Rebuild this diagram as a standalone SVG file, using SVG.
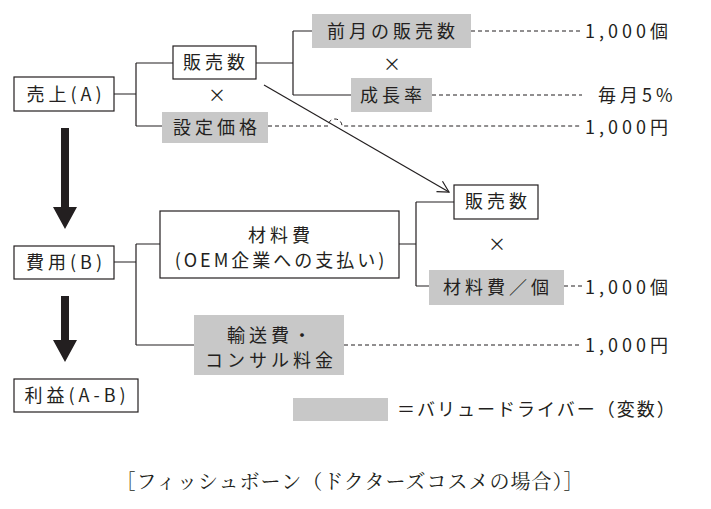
<svg xmlns="http://www.w3.org/2000/svg" width="711" height="509" viewBox="0 0 711 509">
<style>
text{font-family:"Noto Sans CJK JP",sans-serif;font-size:18px;fill:#231f20;letter-spacing:4px}
.m{text-anchor:middle}
.b{fill:#fff;stroke:#231f20;stroke-width:1.2}
.g{fill:#c8c8c8}
.l{fill:none;stroke:#231f20;stroke-width:1.2}
.d{fill:none;stroke:#231f20;stroke-width:1;stroke-dasharray:4 3}
.cap{font-family:"Noto Serif CJK JP","Noto Sans CJK JP",serif;font-size:20px;letter-spacing:1px}
</style>
<defs><marker id="ah" markerWidth="14" markerHeight="14" refX="12" refY="7" orient="auto" markerUnits="userSpaceOnUse"><path d="M1,1 L12,7 L1,13" fill="none" stroke="#231f20" stroke-width="1.2"/></marker></defs>
<g id="connectors">
<path class="l" d="M114,94H136M136,63V126M136,63H173M136,126H162"/>
<path class="l" d="M256,63H293M293,31V95M293,31H312M293,95H351"/>
<path class="l" d="M114,262H136M136,244V345M136,244H160M136,345H194"/>
<path class="l" d="M399,244H416M416,202V286M416,202H454M416,286H429"/>
<path class="d" d="M471,31H582M432,95H582M564,286H582M344,345H582"/>
<path class="d" d="M268,126H328A7,7 0 0 1 342,126H582"/>
<path class="l" d="M264,85L449,192" marker-end="url(#ah)"/>
<path d="M61,128H69V207H77L65,229L53,207H61Z" fill="#231f20"/>
<path d="M61,296H69V340H77L65,362L53,340H61Z" fill="#231f20"/>
</g>
<g id="uriage"><rect class="b" x="14" y="77" width="100" height="34"/><text class="m" x="66" y="101">売上(A)</text></g>
<g id="hanbai1"><rect class="b" x="173" y="46" width="83" height="33"/><text class="m" x="216" y="69">販売数</text></g>
<g id="zengetsu"><rect class="g" x="312" y="14" width="159" height="34"/><text class="m" x="393" y="38">前月の販売数</text></g>
<g id="seicho"><rect class="g" x="351" y="78" width="81" height="34"/><text class="m" x="393" y="102">成長率</text></g>
<g id="kakaku"><rect class="g" x="162" y="112" width="106" height="31"/><text class="m" x="217" y="134">設定価格</text></g>
<text class="m" x="394" y="71">×</text>
<text class="m" x="219" y="102">×</text>
<text x="585" y="38">1,000個</text>
<text x="598" y="102">毎月5%</text>
<text x="585" y="134">1,000円</text>
<g id="hiyou"><rect class="b" x="14" y="246" width="100" height="33"/><text class="m" x="66" y="269">費用(B)</text></g>
<g id="zairyo"><rect class="b" x="160" y="211" width="239" height="67"/><text class="m" x="281" y="242">材料費</text><text class="m" x="281" y="267" style="letter-spacing:3px">(OEM企業への支払い)</text></g>
<g id="hanbai2"><rect class="b" x="454" y="185" width="84" height="34"/><text class="m" x="498" y="208">販売数</text></g>
<text class="m" x="499" y="251">×</text>
<g id="zairyoko"><rect class="g" x="429" y="270" width="135" height="35"/><text class="m" x="498" y="294">材料費／個</text></g>
<text x="585" y="294">1,000個</text>
<g id="yuso"><rect class="g" x="194" y="315" width="150" height="60"/><text class="m" x="271" y="342">輸送費・</text><text class="m" x="271" y="367">コンサル料金</text></g>
<text x="585" y="352">1,000円</text>
<g id="rieki"><rect class="b" x="14" y="379" width="124" height="33"/><text class="m" x="77" y="402">利益(A-B)</text></g>
<g id="legend"><rect class="g" x="293" y="398" width="95" height="23"/><text x="397" y="416" style="letter-spacing:2px">＝バリュードライバー（変数）</text></g>
<text class="cap m" x="350" y="489">［フィッシュボーン（ドクターズコスメの場合）］</text>
</svg>
